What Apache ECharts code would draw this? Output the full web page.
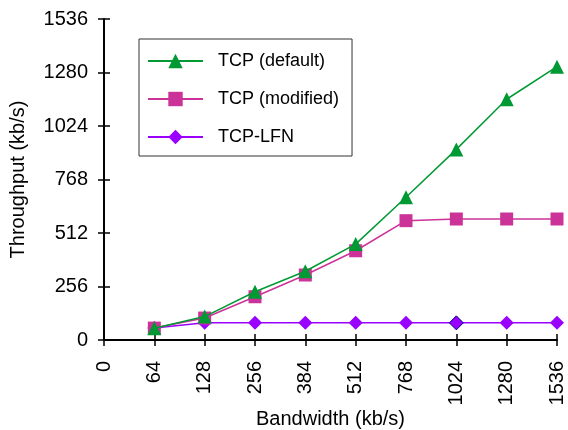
<!DOCTYPE html>
<html>
<head>
<meta charset="utf-8">
<script src="https://cdn.jsdelivr.net/npm/echarts@6/dist/echarts.min.js"></script>
<style>
  html, body { margin: 0; padding: 0; background: #ffffff; }
  #chart { width: 568px; height: 430px; }
</style>
</head>
<body>
<div id="chart"></div>
<script>
// Link bandwidth categories (kb/s)
const bandwidths = ['0', '64', '128', '256', '384', '512', '768', '1024', '1280', '1536'];

// Measured throughput (kb/s) per protocol variant
const tcpDefault  = [null, 56, 112, 231, 329, 459, 683, 912, 1152, 1308];
const tcpModified = [null, 57, 105, 207, 311, 427, 571, 579, 579, 579];
const tcpLfn      = [null, 57, 82, 82, 82, 82, 82, 82, 82, 82];

// Y axis range
const yMin = 0;
const yMax = 1536;
const yStep = 256;

const font = 'Liberation Sans, Arial, Helvetica, sans-serif';

const chart = echarts.init(document.getElementById('chart'), null, { renderer: 'canvas' });

// LFN point at 1024 kb/s is outlined in navy
const lfnData = tcpLfn.map((v, i) =>
  bandwidths[i] === '1024'
    ? { value: v, itemStyle: { borderColor: '#000080', borderWidth: 1 } }
    : v
);

chart.setOption({
  animation: false,
  backgroundColor: '#ffffff',
  grid: { left: 104, right: 11, top: 19, bottom: 90, outerBoundsMode: 'none', containLabel: false },
  legend: {
    orient: 'vertical',
    left: 139,
    top: 39,
    padding: [12, 13, 9, 8],
    itemWidth: 55,
    itemHeight: 18,
    itemGap: 18,
    borderColor: '#333333',
    borderWidth: 1,
    textStyle: {
      fontFamily: font,
      fontSize: 18,
      color: '#000000',
      lineHeight: 20,
      padding: [0, 0, 0, 10]
    },
    data: ['TCP (default)', 'TCP (modified)', 'TCP-LFN']
  },
  xAxis: [
    {
      type: 'category',
      data: bandwidths,
      boundaryGap: false,
      name: 'Bandwidth (kb/s)',
      nameLocation: 'middle',
      nameGap: 69,
      nameMoveOverlap: false,
      nameTextStyle: { fontFamily: font, fontSize: 20, color: '#000000' },
      axisLine: { lineStyle: { color: '#000000', width: 2 } },
      axisTick: { show: true, length: 6, alignWithLabel: true, lineStyle: { color: '#000000', width: 1.5 } },
      axisLabel: {
        rotate: 90,
        margin: 21,
        fontFamily: font,
        fontSize: 20,
        color: '#000000',
        interval: 0
      },
      splitLine: { show: false }
    },
    {
      type: 'category',
      data: bandwidths,
      boundaryGap: false,
      position: 'bottom',
      axisLine: { show: false },
      axisTick: { show: true, inside: true, length: 6, lineStyle: { color: '#000000', width: 1.5 } },
      axisLabel: { show: false },
      splitLine: { show: false }
    }
  ],
  yAxis: [
    {
      type: 'value',
      min: yMin,
      max: yMax,
      interval: yStep,
      name: 'Throughput (kb/s)',
      nameLocation: 'middle',
      nameGap: 76,
      nameMoveOverlap: false,
      nameTextStyle: { fontFamily: font, fontSize: 20, color: '#000000' },
      axisLine: { show: true, lineStyle: { color: '#000000', width: 2 } },
      axisTick: { show: true, length: 6, lineStyle: { color: '#000000', width: 1.5 } },
      axisLabel: {
        margin: 16,
        fontFamily: font,
        fontSize: 20,
        color: '#000000',
        formatter: (v) => String(v)
      },
      splitLine: { show: false }
    },
    {
      type: 'value',
      min: yMin,
      max: yMax,
      interval: yStep,
      position: 'left',
      axisLine: { show: false },
      axisTick: { show: true, inside: true, length: 6, lineStyle: { color: '#000000', width: 1.5 } },
      axisLabel: { show: false },
      splitLine: { show: false }
    }
  ],
  series: [
    {
      name: 'TCP (default)',
      type: 'line',
      data: tcpDefault,
      symbol: 'triangle',
      symbolSize: 14,
      lineStyle: { color: '#009933', width: 1.5 },
      itemStyle: { color: '#009933' },
      z: 4
    },
    {
      name: 'TCP (modified)',
      type: 'line',
      data: tcpModified,
      symbol: 'rect',
      symbolSize: 13,
      lineStyle: { color: '#cc3399', width: 1.5 },
      itemStyle: { color: '#cc3399' },
      z: 3
    },
    {
      name: 'TCP-LFN',
      type: 'line',
      data: lfnData,
      symbol: 'diamond',
      symbolSize: 14,
      lineStyle: { color: '#9900ff', width: 1.5 },
      itemStyle: { color: '#9900ff' },
      z: 2
    }
  ]
});
</script>
</body>
</html>
